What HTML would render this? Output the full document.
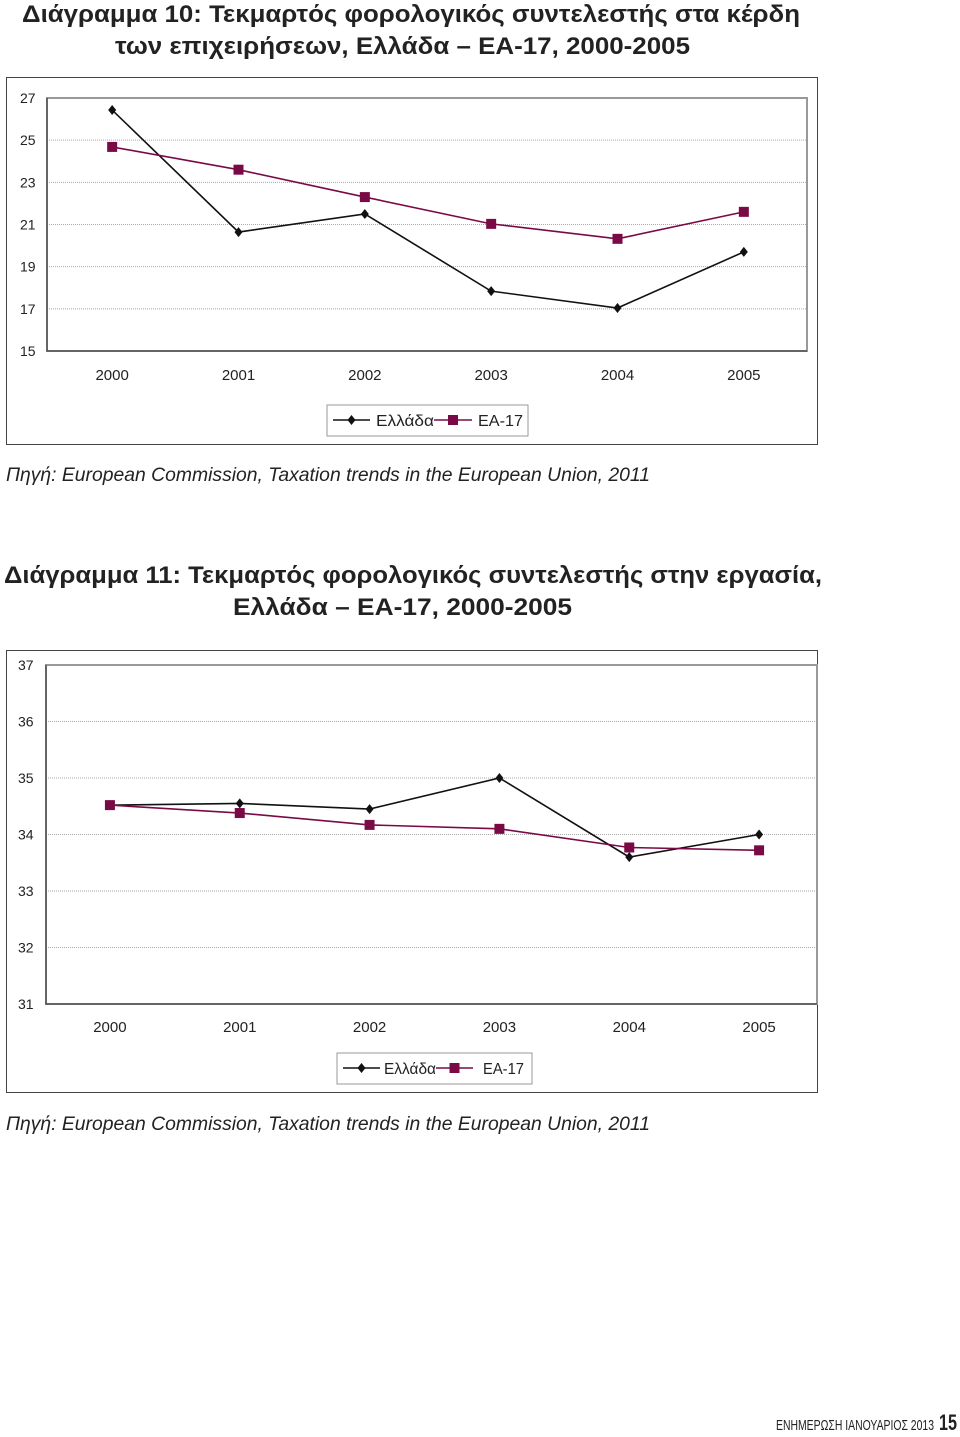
<!DOCTYPE html>
<html><head><meta charset="utf-8"><style>
body{margin:0;background:#fff;width:960px;height:1432px;overflow:hidden;font-family:"Liberation Sans",sans-serif}
svg text{font-family:"Liberation Sans",sans-serif}
</style></head><body>
<svg id="page" width="960" height="1432" xmlns="http://www.w3.org/2000/svg">
<text x="22" y="22" font-size="24" font-weight="bold" fill="#222" textLength="778" lengthAdjust="spacingAndGlyphs">Διάγραμμα 10: Τεκμαρτός φορολογικός συντελεστής στα κέρδη</text>
<text x="115" y="54" font-size="24" font-weight="bold" fill="#222" textLength="575" lengthAdjust="spacingAndGlyphs">των επιχειρήσεων, Ελλάδα – ΕΑ-17,  2000-2005</text>
<rect x="6.5" y="77.5" width="811" height="367" fill="none" stroke="#444"/>
<g id="c1"></g>
<text x="6" y="481" font-size="19" font-style="italic" fill="#222" textLength="644" lengthAdjust="spacingAndGlyphs">Πηγή: European Commission, Taxation trends in the European Union, 2011</text>

<text x="4" y="583" font-size="24" font-weight="bold" fill="#222" textLength="818" lengthAdjust="spacingAndGlyphs">Διάγραμμα 11: Τεκμαρτός φορολογικός συντελεστής στην εργασία,</text>
<text x="233" y="615" font-size="24" font-weight="bold" fill="#222" textLength="339" lengthAdjust="spacingAndGlyphs">Ελλάδα – ΕΑ-17,  2000-2005</text>
<rect x="6.5" y="650.5" width="811" height="442" fill="none" stroke="#444"/>
<g id="c2"></g>
<text x="6" y="1130" font-size="19" font-style="italic" fill="#222" textLength="644" lengthAdjust="spacingAndGlyphs">Πηγή: European Commission, Taxation trends in the European Union, 2011</text>

<text x="934" y="1430" font-size="15" text-anchor="end" fill="#222" textLength="158" lengthAdjust="spacingAndGlyphs">ΕΝΗΜΕΡΩΣΗ ΙΑΝΟΥΑΡΙΟΣ 2013</text>
<text x="957" y="1430" font-size="22" font-weight="bold" text-anchor="end" fill="#222" textLength="18" lengthAdjust="spacingAndGlyphs">15</text>
</svg>
<script>
const years = ["2000","2001","2002","2003","2004","2005"];
const greece10 = [26.43, 20.64, 21.5, 17.84, 17.04, 19.7];
const ea10 = [24.68, 23.6, 22.3, 21.03, 20.32, 21.6];
const ticks10 = [15,17,19,21,23,25,27];
const greece11 = [34.52, 34.55, 34.45, 35.0, 33.6, 34.0];
const ea11 = [34.52, 34.38, 34.17, 34.1, 33.77, 33.72];
const ticks11 = [31,32,33,34,35,36,37];
const NS="http://www.w3.org/2000/svg";
function mk(parent,tag,attrs){const e=document.createElementNS(NS,tag);for(const k in attrs)e.setAttribute(k,attrs[k]);parent.appendChild(e);return e;}
function draw(gid,cfg){
  const g=document.getElementById(gid);
  const {L,R,T,B,min,max,ticks,g1,g2,xlY,legX,legY,tickX,xL,xR,lg:LG}=cfg;
  const y=v=>B-(v-min)/(max-min)*(B-T);
  const bw=(xR-xL)/years.length;
  const x=i=>xL+bw*(i+0.5);
  ticks.forEach(t=>{
    if(t!==min&&t!==max){const l=mk(g,'line',{x1:L,x2:R,y1:y(t),y2:y(t),stroke:'#aaa','stroke-dasharray':'1,1'});
    
    }
    const tx=mk(g,'text',{x:tickX,y:y(t)+5,'font-size':14,fill:'#222'});tx.textContent=t;
    
    
  });
  const pa=mk(g,'rect',{x:L,y:T,width:R-L,height:B-T,fill:'none',stroke:'#999','stroke-width':2});
  
  
  const ax=mk(g,'path',{d:`M${L},${T} V${B} H${R}`,fill:'none',stroke:'#444','stroke-width':1.2});
  
  
  years.forEach((yr,i)=>{const t=mk(g,'text',{x:x(i),y:xlY,'font-size':15,'text-anchor':'middle',fill:'#222'});t.textContent=yr;
    
    });
  const series=[[g1,'#111','greece'],[g2,'#7a0a45','ea17']];
  series.forEach(([vals,col,nm])=>{
    const ln=mk(g,'polyline',{points:vals.map((v,i)=>x(i)+','+y(v)).join(' '),fill:'none',stroke:col,'stroke-width':1.6});
    
    
    vals.forEach((v,i)=>{let m;
      if(nm==='greece'){m=mk(g,'path',{d:`M${x(i)},${y(v)-5} l4,5 l-4,5 l-4,-5z`,fill:col});}
      else{m=mk(g,'rect',{x:x(i)-5,y:y(v)-5,width:10,height:10,fill:col});}
      
      });
  });
  const lg=mk(g,'g',{});
  
  
  mk(lg,'rect',{x:legX,y:legY,width:cfg.legW,height:31,fill:'#fff',stroke:'#999'});
  const cy=legY+15;
  const a=mk(lg,'g',{});
  
  
  mk(a,'line',{x1:LG[0],x2:LG[1],y1:cy,y2:cy,stroke:'#111','stroke-width':1.6});
  mk(a,'path',{d:`M${(LG[0]+LG[1])/2},${cy-5} l4,5 l-4,5 l-4,-5z`,fill:'#111'});
  const t1=mk(a,'text',{x:LG[2],y:cy+6,'font-size':16,fill:'#222',textLength:LG[3]-LG[2],lengthAdjust:'spacingAndGlyphs'});t1.textContent='Ελλάδα';
  const b=mk(lg,'g',{});
  
  
  mk(b,'line',{x1:LG[3],x2:LG[4],y1:cy,y2:cy,stroke:'#7a0a45','stroke-width':1.6});
  mk(b,'rect',{x:(LG[3]+LG[4])/2-5,y:cy-5,width:10,height:10,fill:'#7a0a45'});
  const t2=mk(b,'text',{x:LG[5],y:cy+6,'font-size':16,fill:'#222',textLength:LG[6]-LG[5],lengthAdjust:'spacingAndGlyphs'});t2.textContent='ΕΑ-17';
}
draw('c1',{L:47,R:807,T:98,B:351,xL:49,xR:807,min:15,max:27,ticks:ticks10,g1:greece10,g2:ea10,xlY:380,legX:327,legY:405,legW:201,tickX:20,lg:[333,370,376,434,472,478,523]});
draw('c2',{L:46,R:817,T:665,B:1004,xL:45,xR:824,min:31,max:37,ticks:ticks11,g1:greece11,g2:ea11,xlY:1032,legX:337,legY:1053,legW:195,tickX:18,lg:[343,380,384,436,473,483,524]});
</script>
</body></html>
